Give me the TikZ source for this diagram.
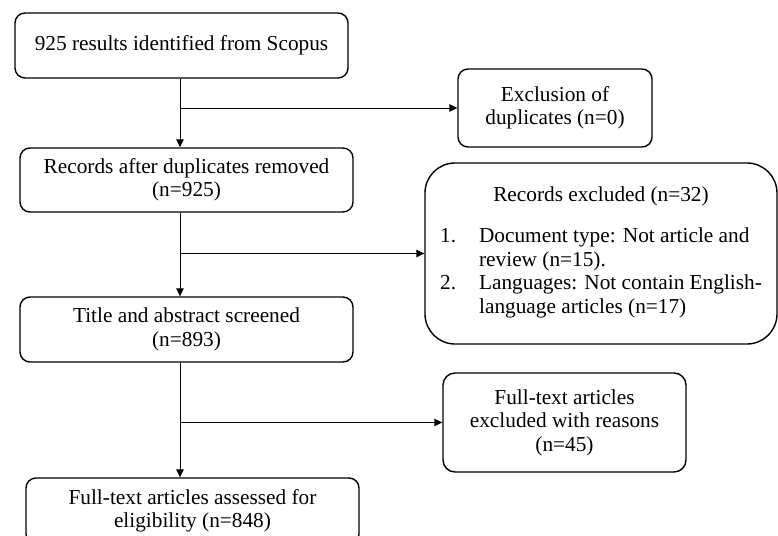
\documentclass[tikz,border=0pt]{standalone}
\usepackage{fontspec}
\setmainfont{Liberation Serif}
\usetikzlibrary{arrows.meta}

\begin{document}
\begin{tikzpicture}[x=1pt,y=1pt,yscale=-1,xscale=1,
  box/.style={draw,line width=1.4pt,rounded corners=10pt,align=center,inner sep=0pt,
    font=\fontsize{21.3}{23.5}\selectfont},
  flow/.style={line width=0.9pt,-{Triangle[length=8pt,width=7.5pt]}}]
\useasboundingbox (0,0) rectangle (778,535);
\clip (0,0) rectangle (778,535);

% Text Node
\node[box,minimum width=333,minimum height=65] (scopus) at (181.5,45.5) {925 results identified from Scopus};
% Text Node
\node[box,minimum width=194,minimum height=78] (dup) at (555,108) {Exclusion of\\duplicates (n=0)};
% Text Node
\node[box,minimum width=333,minimum height=64] (records) at (186.5,180) {Records after duplicates removed\\(n=925)};
% Text Node
\node[box,rounded corners=30pt,minimum width=352,minimum height=181] (excl) at (601,253.5)
  {Records excluded (n=32)\\[19pt]
   \begin{tabular}{@{}l@{}l@{}}
   \makebox[39pt][l]{1.} & Document type: Not article and\\
    & review (n=15).\\
   \makebox[39pt][l]{2.} & Languages: Not contain English-\\
    & language articles (n=17)
   \end{tabular}};
% Text Node
\node[box,minimum width=333,minimum height=65] (screen) at (186.5,329.5) {Title and abstract screened\\(n=893)};
% Text Node
\node[box,rounded corners=12pt,minimum width=243,minimum height=99] (fulltext) at (564.5,422.5) {Full-text articles\\excluded with reasons\\(n=45)};
% Text Node
\node[box,minimum width=333,minimum height=66] (elig) at (192.5,511) {Full-text articles assessed for\\eligibility (n=848)};

%Straight Lines
\coordinate (sp) at (180,0);
\draw[flow] (scopus.south -| sp) -- (records.north -| sp);
\draw[flow] (sp |- dup.west) -- (dup.west);
%Straight Lines
\draw[flow] (records.south -| sp) -- (screen.north -| sp);
\draw[flow] (sp |- excl.west) -- (excl.west);
%Straight Lines
\draw[flow] (screen.south -| sp) -- (elig.north -| sp);
\draw[flow] (sp |- fulltext.west) -- (fulltext.west);
\end{tikzpicture}
\end{document}
